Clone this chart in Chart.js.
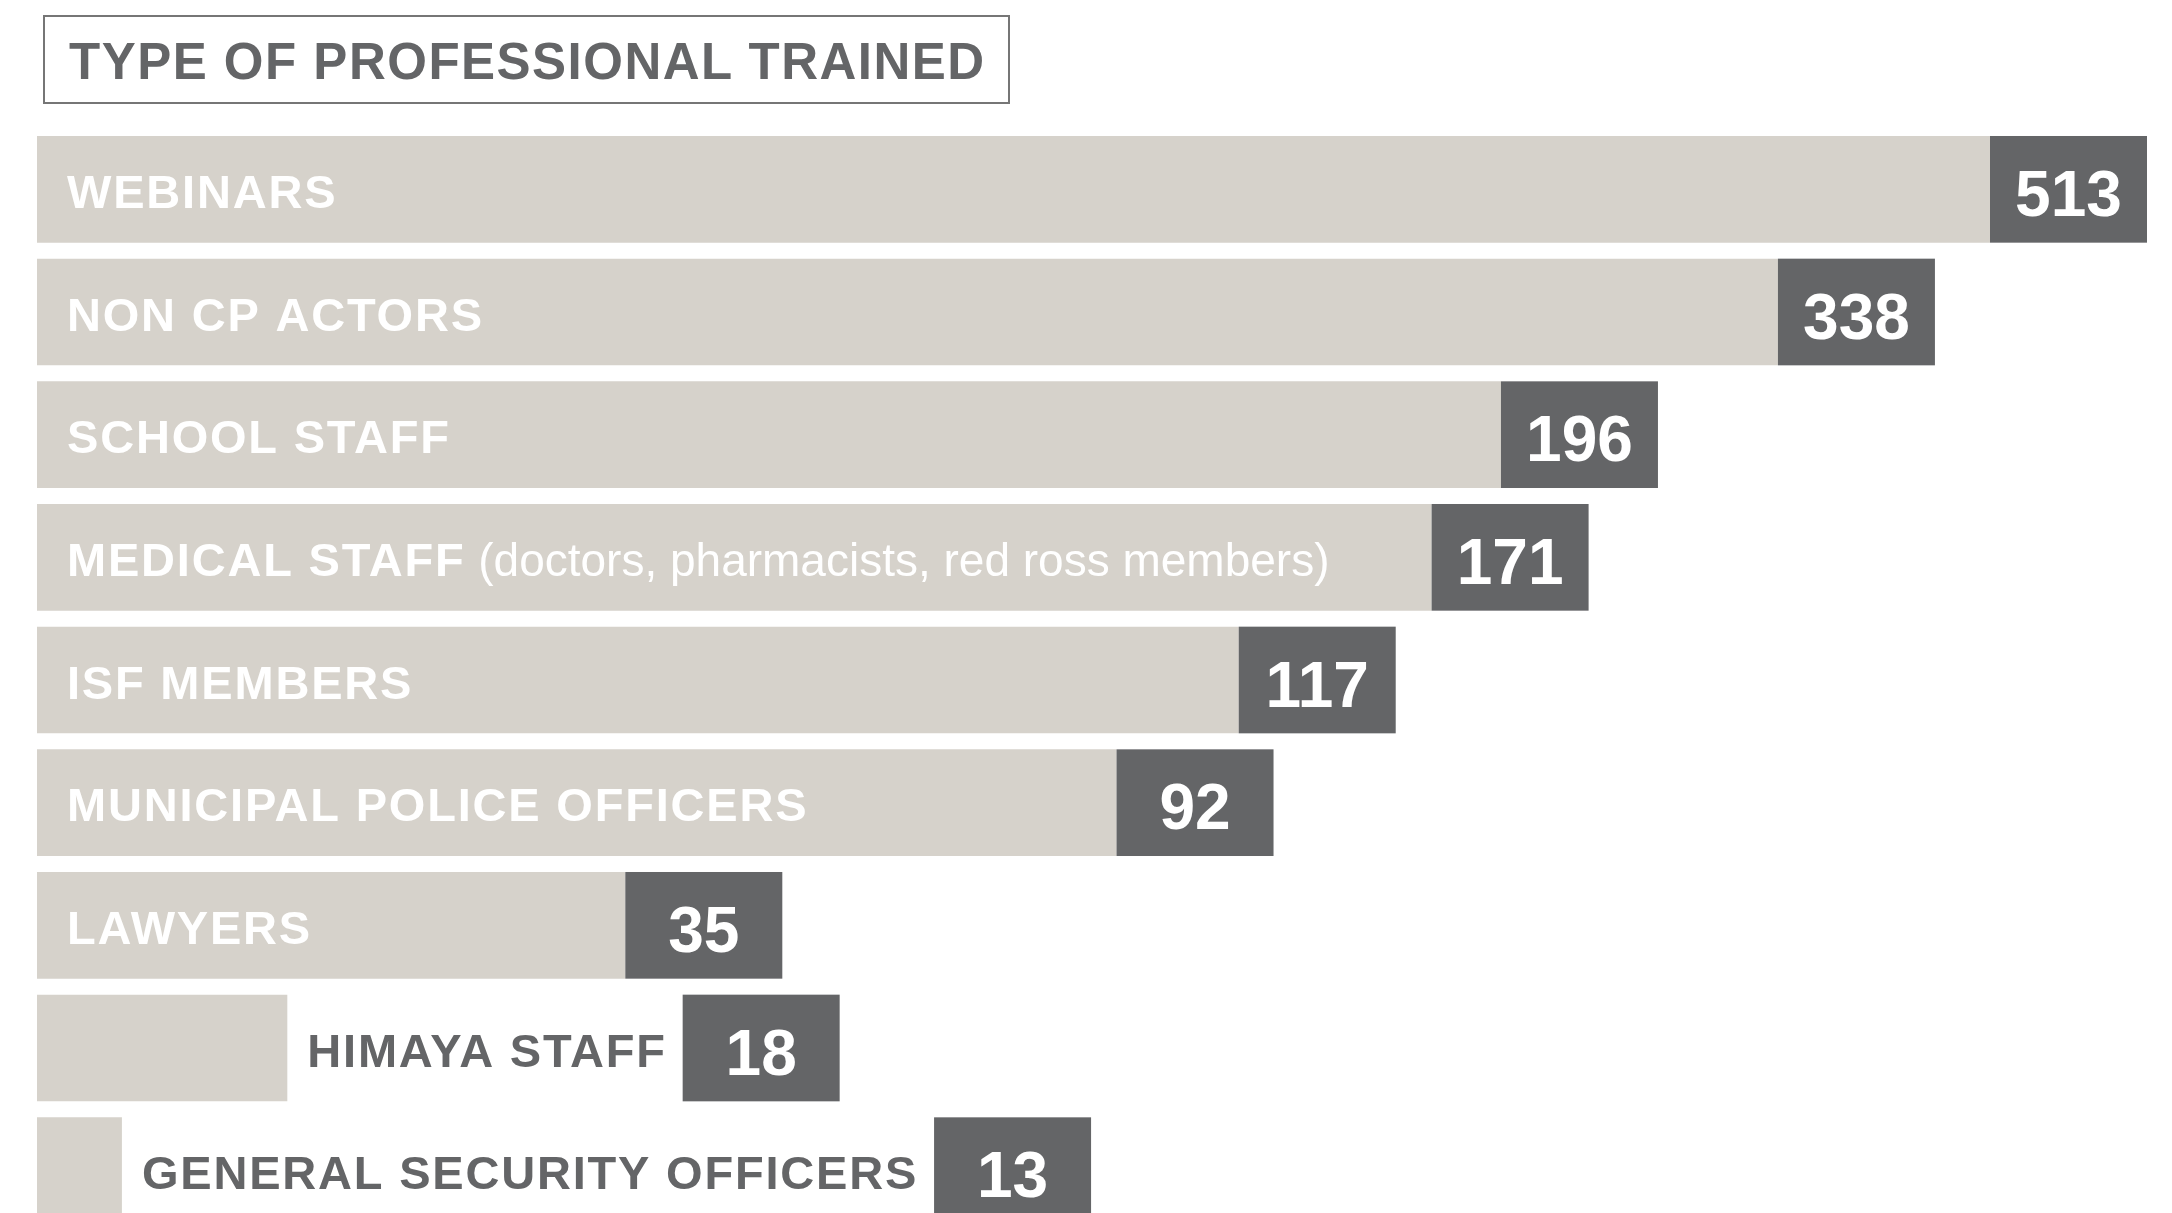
<!DOCTYPE html>
<html lang="en">
<head>
    <meta charset="UTF-8">
    <title>Type of Professional Trained</title>
    <script src="https://cdn.jsdelivr.net/npm/chart.js@4.4.1/dist/chart.umd.min.js"></script>
    <style>
        body {
            margin: 0;
            background: #ffffff;
            overflow: hidden;
        }
        #wrap {
            position: relative;
            width: 2172px;
            height: 1232px;
        }
        #title-box {
            position: absolute;
            left: 43px;
            top: 15px;
            width: 967px;
            height: 89px;
            box-sizing: border-box;
            border: 2px solid #767676;
        }
        #title-box span {
            position: absolute;
            left: 24px;
            top: 19px;
            font: bold 51px "Liberation Sans", Arial, sans-serif;
            line-height: 51px;
            letter-spacing: 1.5px;
            color: #646567;
            white-space: nowrap;
        }
    </style>
</head>
<body>
    <div id="wrap">
        <canvas id="chart"></canvas>
        <div id="title-box"><span>TYPE OF PROFESSIONAL TRAINED</span></div>
    </div>

    <script>
        const categories = [
            'WEBINARS',
            'NON CP ACTORS',
            'SCHOOL STAFF',
            'MEDICAL STAFF',
            'ISF MEMBERS',
            'MUNICIPAL POLICE OFFICERS',
            'LAWYERS',
            'HIMAYA STAFF',
            'GENERAL SECURITY OFFICERS'
        ];
        const notes = ['', '', '', '(doctors, pharmacists, red ross members)', '', '', '', '', ''];
        const trained = [513, 338, 196, 171, 117, 92, 35, 18, 13];

        const LIGHT = '#d6d2cb';
        const DARK = '#646567';
        const FONT = '"Liberation Sans", Arial, sans-serif';

        // labels inside the bar (or after it when they don't fit) + the dark count box
        const labelBoxes = {
            id: 'labelBoxes',
            afterDatasetsDraw(chart) {
                const ctx = chart.ctx;
                const meta = chart.getDatasetMeta(0);
                ctx.save();
                meta.data.forEach((bar, i) => {
                    const top = bar.y - bar.height / 2;
                    const h = bar.height;
                    const start = Math.min(bar.base, bar.x);
                    const end = Math.max(bar.base, bar.x);

                    ctx.font = 'bold 47px ' + FONT;
                    ctx.letterSpacing = '1.8px';
                    let w = ctx.measureText(categories[i]).width;
                    let noteW = 0;
                    if (notes[i]) {
                        ctx.font = '46px ' + FONT;
                        ctx.letterSpacing = '0px';
                        noteW = ctx.measureText(' ' + notes[i]).width;
                    }
                    const total = w + noteW;
                    const inside = start + 31 + total <= end;
                    const lx = inside ? start + 30 : end + 20;

                    ctx.textBaseline = 'alphabetic';
                    ctx.textAlign = 'left';
                    ctx.fillStyle = inside ? '#ffffff' : DARK;
                    ctx.font = 'bold 47px ' + FONT;
                    ctx.letterSpacing = '1.8px';
                    ctx.fillText(categories[i], lx, top + 72);
                    if (notes[i]) {
                        ctx.font = '46px ' + FONT;
                        ctx.letterSpacing = '0px';
                        ctx.fillText(' ' + notes[i], lx + w, top + 72);
                    }

                    const bx = inside ? end : lx + total + 16;
                    const bw = 157;
                    ctx.fillStyle = DARK;
                    ctx.fillRect(bx, top, bw, h);

                    ctx.fillStyle = '#ffffff';
                    ctx.font = 'bold 64px ' + FONT;
                    ctx.letterSpacing = '0px';
                    ctx.textAlign = 'center';
                    ctx.fillText(String(trained[i]), bx + bw / 2, top + 80);
                });
                ctx.restore();
            }
        };

        new Chart(document.getElementById('chart'), {
            type: 'bar',
            data: {
                labels: categories,
                datasets: [{
                    label: 'Professionals trained',
                    data: trained,
                    backgroundColor: LIGHT,
                    borderWidth: 0,
                    barPercentage: 0.8696,
                    categoryPercentage: 1
                }]
            },
            options: {
                indexAxis: 'y',
                responsive: true,
                maintainAspectRatio: false,
                animation: false,
                layout: {
                    padding: { top: 128, left: 37, right: 182, bottom: 0 }
                },
                scales: {
                    x: {
                        type: 'logarithmic',
                        min: 11,
                        max: 513,
                        display: false
                    },
                    y: {
                        display: false
                    }
                },
                plugins: {
                    legend: { display: false },
                    tooltip: { enabled: false }
                }
            },
            plugins: [labelBoxes]
        });
    </script>
</body>
</html>
